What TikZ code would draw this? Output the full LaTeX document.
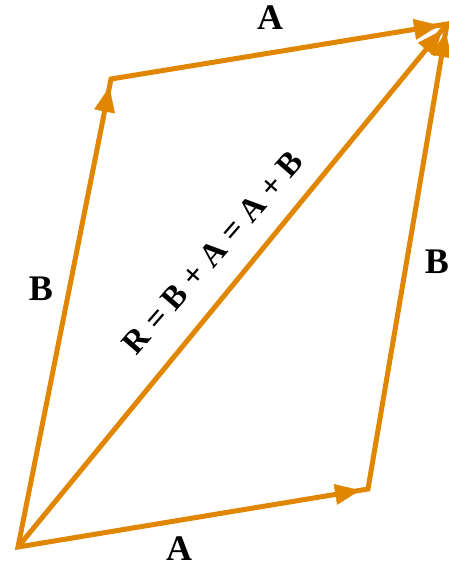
\documentclass[tikz,border=0pt]{standalone}
\usepackage{fontspec}
\setmainfont{Liberation Serif}
\usetikzlibrary{arrows.meta,decorations.markings}
\definecolor{vecorange}{RGB}{224,134,0}

\begin{document}
\begin{tikzpicture}[x=1pt, y=-1pt,
    side/.style={vecorange, line width=5pt, line join=miter},
    headmark/.style={postaction={decorate}, decoration={markings,
        mark=at position -8pt with {\arrow[vecorange]{Triangle[length=25pt, width=21pt]}}}},
    lab/.style={font=\bfseries\fontsize{36}{36}\selectfont, inner sep=0pt}]
    \useasboundingbox (0,0) rectangle (449,568);

    % Corners
    \coordinate (O) at (18,547);
    \coordinate (P) at (368,489);
    \coordinate (Q) at (111,79);
    \coordinate (S) at (447,24);

    % Sides and diagonal
    \draw[side] (O) -- (P) -- (S) -- (Q) -- cycle;
    \draw[side] (O) -- (S);

    % Arrow heads
    \path[headmark] (O) -- (P);
    \path[headmark] (P) -- (S);
    \path[headmark] (O) -- (Q);
    \path[headmark] (Q) -- (S);
    \path[headmark] (O) -- (S);

    % Labels
    \node[lab] (Atop) at (270,18) {A};
    \node[lab] (Abot) at (179,549) {A};
    \node[lab] (Bleft) at (41,289) {B};
    \node[lab] (Bright) at (437,262) {B};
    \node[lab, font=\bfseries\fontsize{33}{33}\selectfont, rotate=49]
        (Rsum) at (213,253) {R = B + A = A + B};
\end{tikzpicture}
\end{document}
